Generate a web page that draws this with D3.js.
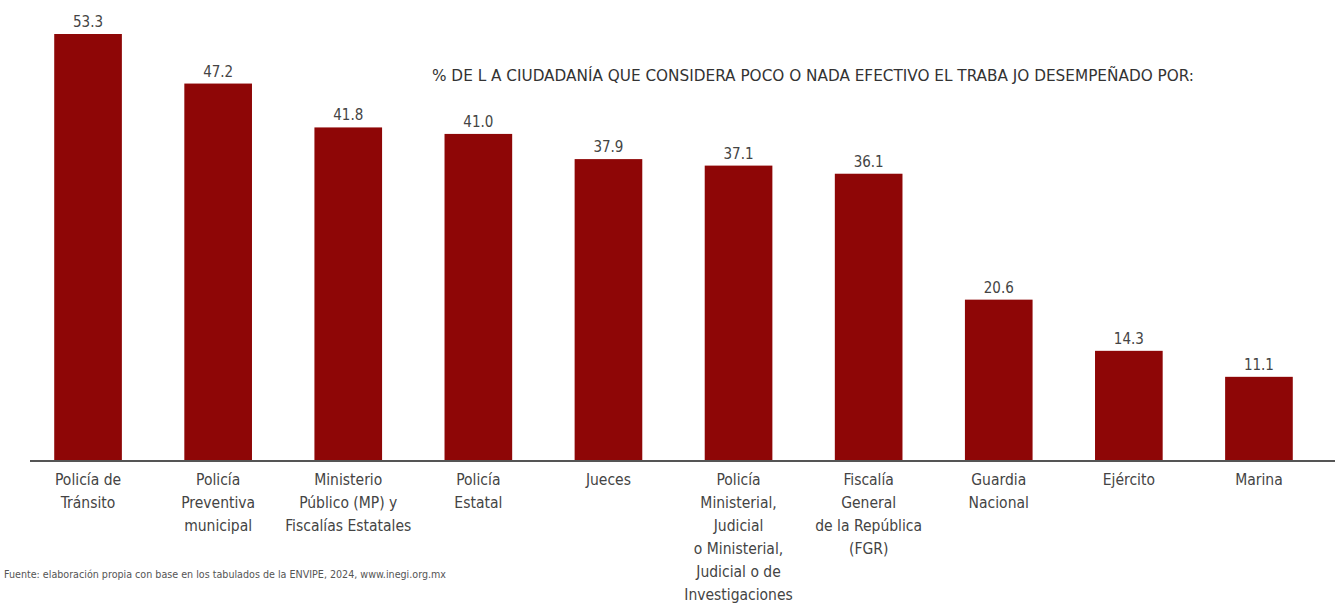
<!DOCTYPE html>
<html lang="es">
<head>
  <meta charset="UTF-8" />
  <title>Efectividad percibida de autoridades</title>
  <script src="https://cdn.jsdelivr.net/npm/d3@7"></script>
  <style>
    body {
      margin: 0;
      background: #fff;
    }

    text {
      font-family: "Liberation Sans Narrow", "DejaVu Sans Condensed", sans-serif;
      fill: #444;
    }
  </style>
</head>
<body>
  <div id="chart"></div>
  <script>
    // categorías (cada línea del rótulo separada)
    var categories = [
      ["Policía de", "Tránsito"],
      ["Policía", "Preventiva", "municipal"],
      ["Ministerio", "Público (MP) y", "Fiscalías Estatales"],
      ["Policía", "Estatal"],
      ["Jueces"],
      ["Policía", "Ministerial,", "Judicial", "o Ministerial,", "Judicial o de", "Investigaciones"],
      ["Fiscalía", "General", "de la República", "(FGR)"],
      ["Guardia", "Nacional"],
      ["Ejército"],
      ["Marina"]
    ];
    var values = [53.3, 47.2, 41.8, 41.0, 37.9, 37.1, 36.1, 20.6, 14.3, 11.1];
    var title = "% DE L A CIUDADANÍA QUE CONSIDERA POCO O NADA EFECTIVO EL TRABA JO DESEMPEÑADO POR:";
    var source = "Fuente: elaboración propia con base en los tabulados de la ENVIPE, 2024, www.inegi.org.mx";

    var w = 1335,
      h = 607;

    var svg = d3.select("#chart").append("svg")
      .attr("width", w)
      .attr("height", h);

    var x = d3.scaleBand()
      .domain(d3.range(values.length))
      .range([23, 1324])
      .paddingInner(0.48)
      .paddingOuter(0.24);

    var y = d3.scaleLinear()
      .domain([0, 53.3])
      .range([467, 34]);

    var baseY = 461;

    // barras
    svg.selectAll("rect.bar")
      .data(values)
      .enter()
      .append("rect")
      .attr("class", "bar")
      .attr("x", function(d, i) { return x(i); })
      .attr("y", function(d) { return y(d); })
      .attr("width", x.bandwidth())
      .attr("height", function(d) { return baseY - y(d); })
      .attr("fill", "#8e0606");

    // eje
    svg.append("line")
      .attr("x1", 30)
      .attr("x2", w)
      .attr("y1", baseY)
      .attr("y2", baseY)
      .attr("stroke", "#555")
      .attr("stroke-width", 2);

    // valores
    svg.selectAll("text.val")
      .data(values)
      .enter()
      .append("text")
      .attr("class", "val")
      .attr("x", function(d, i) { return x(i) + x.bandwidth() / 2; })
      .attr("y", function(d) { return y(d) - 7; })
      .attr("text-anchor", "middle")
      .style("font-size", "15px")
      .text(function(d) { return d.toFixed(1); });

    // rótulos de categoría
    var lab = svg.selectAll("text.cat")
      .data(categories)
      .enter()
      .append("text")
      .attr("class", "cat")
      .attr("text-anchor", "middle")
      .attr("x", function(d, i) { return x(i) + x.bandwidth() / 2; })
      .attr("y", 485)
      .style("font-size", "15.5px");

    lab.selectAll("tspan")
      .data(function(d) { return d; })
      .enter()
      .append("tspan")
      .attr("x", function() { return d3.select(this.parentNode).attr("x"); })
      .attr("dy", function(d, i) { return i === 0 ? 0 : 23; })
      .text(function(d) { return d; });

    // título
    svg.append("text")
      .attr("x", 432)
      .attr("y", 81)
      .attr("textLength", 762)
      .attr("lengthAdjust", "spacingAndGlyphs")
      .style("font-size", "15px")
      .style("fill", "#333")
      .text(title);

    // fuente
    svg.append("text")
      .attr("x", 4)
      .attr("y", 578)
      .attr("textLength", 442)
      .attr("lengthAdjust", "spacingAndGlyphs")
      .style("font-size", "10.5px")
      .style("fill", "#555")
      .text(source);
  </script>
</body>
</html>
